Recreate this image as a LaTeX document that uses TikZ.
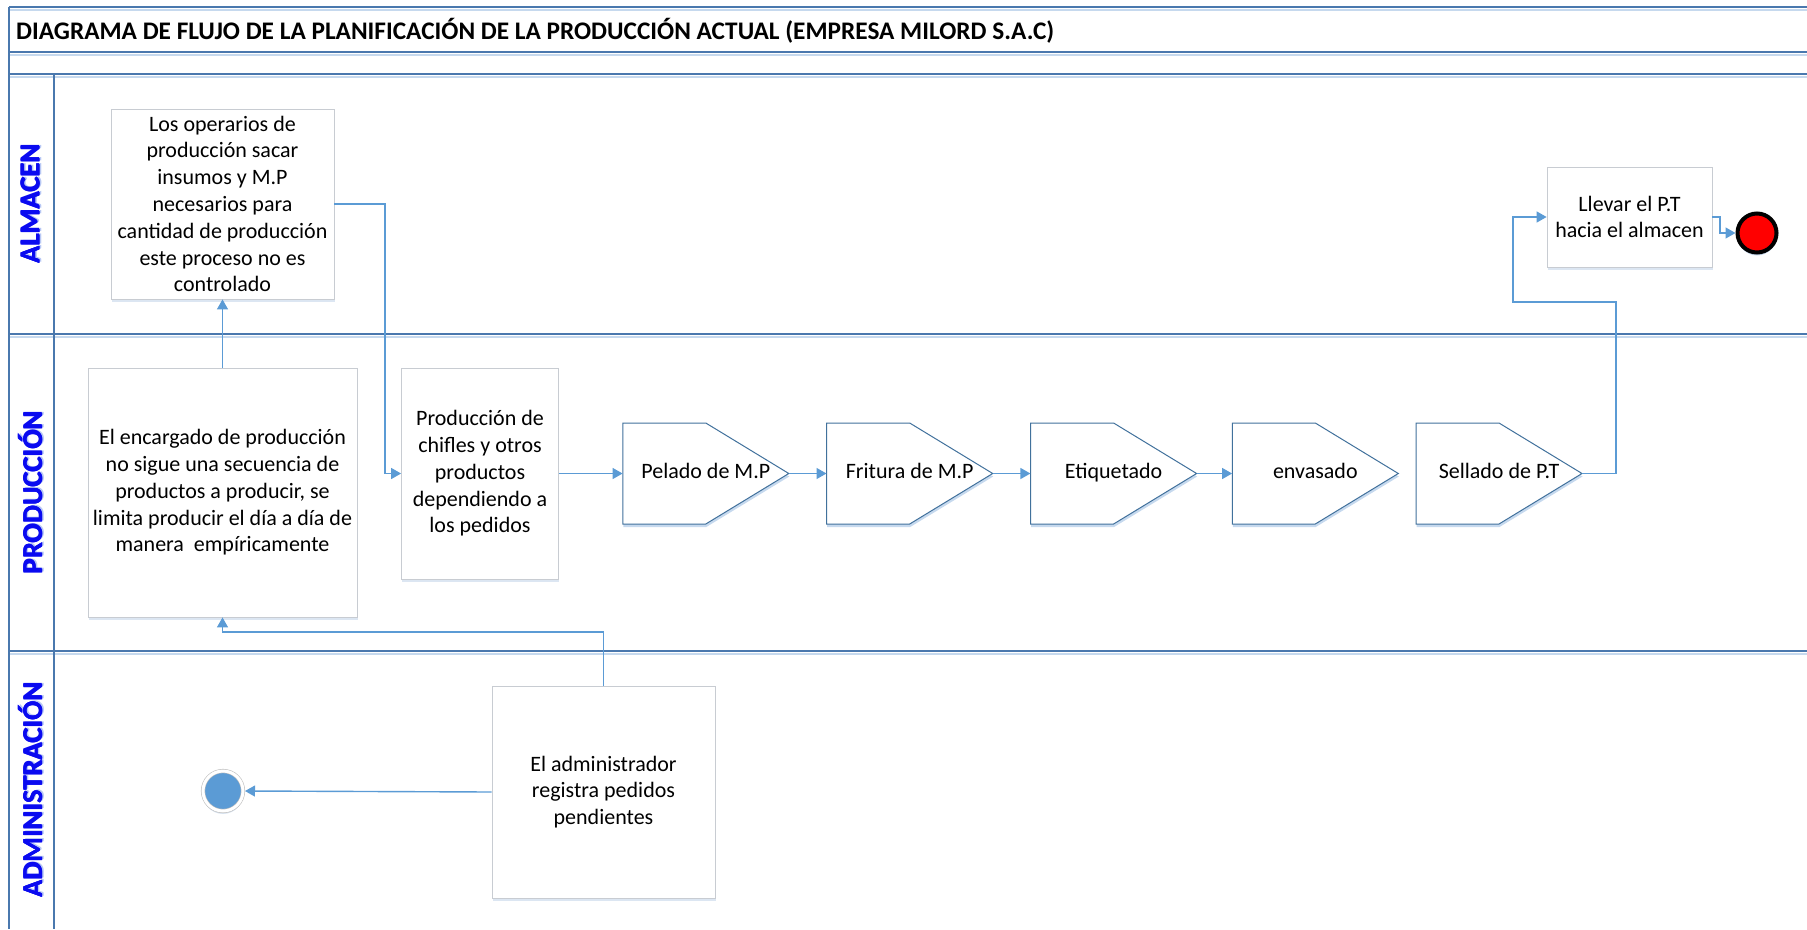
\documentclass[tikz,border=0pt]{standalone}
\usepackage{fontspec}
\setmainfont{Carlito}
\usetikzlibrary{arrows.meta,calc,shadows}

\definecolor{laneblue}{HTML}{4A78AE}
\definecolor{laneshade}{HTML}{C6D9EE}
\definecolor{boxgrey}{HTML}{C8CCD2}
\definecolor{boxshade}{HTML}{DCE6F2}
\definecolor{penblue}{HTML}{41719C}
\definecolor{arrowblue}{HTML}{5B9BD5}
\definecolor{labelblue}{HTML}{0A0AF0}
\definecolor{labelshade}{HTML}{B8C8F4}
\definecolor{ringgrey}{HTML}{BFBFBF}

% heavier lane lettering with a soft shadow: overprinted copies of the word
\newcommand\heavytext[1]{\leavevmode
  \rlap{\textcolor{labelshade}{\raisebox{-2.2pt}{\kern1pt#1}}}%
  \rlap{#1}\rlap{\raisebox{-0.7pt}{#1}}\kern0.7pt#1}

\begin{document}
\begin{tikzpicture}[x=1pt,y=-1pt,
  lane/.style={draw=laneblue, line width=1.6pt},
  laneshadow/.style={draw=laneshade, line width=1.6pt},
  txt/.style={font=\fontsize{22}{26.8}\selectfont, align=center, text=black},
  box/.style={draw=boxgrey, line width=0.8pt, fill=white, inner sep=2pt,
    drop shadow={shadow xshift=0.5pt, shadow yshift=-3pt, fill=boxshade, opacity=1}},
  proc/.style={txt, draw=none, minimum width=166pt, minimum height=101pt, inner sep=0pt,
    text height=15pt, text depth=5pt},
  penline/.style={draw=penblue, line width=1pt, fill=white,
    drop shadow={shadow xshift=0.5pt, shadow yshift=-3pt, fill=laneshade, opacity=1}},
  lanelabel/.style={rotate=90, text=labelblue, font=\fontsize{28.5}{32}\selectfont\bfseries},
  titletext/.style={font=\fontsize{25.3}{30}\selectfont\bfseries, text=black, anchor=west, inner sep=0pt},
  flow/.style={draw=arrowblue, line width=1.4pt, -{Triangle[length=10pt,width=11pt]}},
]
\useasboundingbox (0,0) rectangle (1807,929);

% swimlane frame
\foreach \yy in {7,52,74,334,651} {
  \draw[laneshadow] (9,\yy+3) -- (1807,\yy+3);
  \draw[lane] (9,\yy) -- (1807,\yy);
}
\draw[lane] (9,7) -- (9,929);
\draw[lane] (54,74) -- (54,929);

% heading and lane names
\node[titletext] (title) at (16,31) {DIAGRAMA DE FLUJO DE LA PLANIFICACIÓN DE LA PRODUCCIÓN ACTUAL (EMPRESA MILORD S.A.C)};
\node[lanelabel] (laneA) at (31,204) {\heavytext{ALMACEN}};
\node[lanelabel] (laneP) at (31,492.5) {\heavytext{PRODUCCIÓN}};
\node[lanelabel] (laneD) at (31,790) {\heavytext{ADMINISTRACIÓN}};

% activities
\node[box, txt, minimum width=223pt, minimum height=190pt] (boxA) at (222.5,204)
  {Los operarios de\\producción sacar\\insumos y M.P\\necesarios para\\cantidad de producción\\este proceso no es\\controlado};
\node[box, txt, minimum width=269pt, minimum height=249pt] (boxB) at (222.5,492.5)
  {El encargado de producción\\no sigue una secuencia de\\productos a producir, se\\limita producir el día a día de\\manera\ \ empíricamente};
\node[box, txt, minimum width=157pt, minimum height=211pt] (boxC) at (480,473.5)
  {Producción de\\chifles y otros\\productos\\dependiendo a\\los pedidos};
\node[box, txt, minimum width=165pt, minimum height=100pt] (boxD) at (1629.5,217)
  {Llevar el P.T\\hacia el almacen};
\node[box, txt, minimum width=223pt, minimum height=212pt] (boxE) at (603.5,792)
  {El administrador\\registra pedidos\\pendientes};

% pentagon outlines for the process steps
\foreach \n/\xx in {p1/705.8, p2/909.7, p3/1113.6, p4/1315.3, p5/1499} {
  \coordinate (\n-c) at (\xx,473.5);
  \path[penline] ($(\n-c)+(-83,-50.5)$) -- ($(\n-c)+(0,-50.5)$) -- ($(\n-c)+(83,0)$)
    -- ($(\n-c)+(0,50.5)$) -- ($(\n-c)+(-83,50.5)$) -- cycle;
}
\node[proc] (p1) at (p1-c) {Pelado de M.P};
\node[proc] (p2) at (p2-c) {Fritura de M.P};
\node[proc] (p3) at (p3-c) {Etiquetado};
\node[proc] (p4) at (p4-c) {envasado};
\node[proc] (p5) at (p5-c) {Sellado de P.T};

% start and end events
\node[circle, minimum size=40pt, inner sep=0pt, outer sep=2pt, fill=arrowblue,
  draw=ringgrey, double=white, double distance=3pt, line width=0.6pt,
  drop shadow={shadow xshift=0pt, shadow yshift=-3pt, fill=boxshade, opacity=1}] (start) at (223,791) {};
\node[circle, minimum size=39pt, inner sep=0pt, fill=red, draw=black, line width=4pt,
  drop shadow={shadow xshift=0pt, shadow yshift=-3pt, fill=laneshade, opacity=1}] (stop) at (1757,233) {};

% bend points
\coordinate (kA) at (385,0);
\coordinate (kS) at (1616,302);
\coordinate (kT) at (1513,302);
\coordinate (kD) at (1720,0);
\coordinate (kE) at (400,632);

% connectors
\draw[flow] (boxB.north) -- (boxA.south);
\draw[flow] (boxA.east) -- (boxA.east -| kA) -- (kA |- boxC.west) -- (boxC.west);
\draw[flow] (boxC.east) -- (p1.west);
\draw[flow] (p1.east) -- (p2.west);
\draw[flow] (p2.east) -- (p3.west);
\draw[flow] (p3.east) -- (p4.west);
\draw[flow] (p5.east) -| (kS) -- (kT) |- (boxD.west);
\draw[flow] (boxD.east) -- (boxD.east -| kD) -- (kD |- stop.west) -- (stop.west);
\draw[flow] (boxE.north) |- (kE) -| (boxB.south);
\draw[flow] (boxE.west) -- (start.east);
\end{tikzpicture}
\end{document}
